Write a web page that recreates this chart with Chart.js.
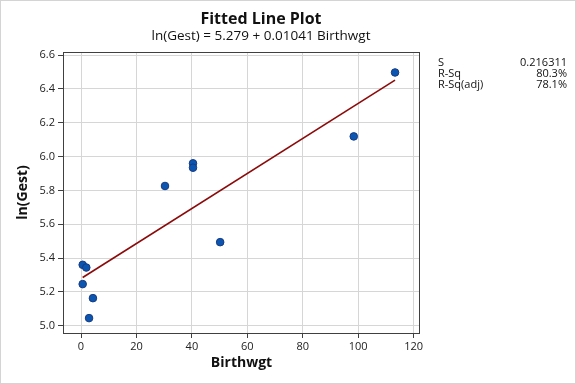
<!DOCTYPE html>
<html>
<head>
<meta charset="utf-8">
<script src="https://cdn.jsdelivr.net/npm/chart.js@4"></script>
<style>
  html, body { margin: 0; padding: 0; background: #fff; }
  #wrap { width: 576px; height: 384px; position: relative; }
</style>
</head>
<body>
<div id="wrap"><canvas class="chart" width="576" height="384"></canvas></div>
<script>
// Fitted line plot: ln(Gest) vs Birthwgt

const birthwgt = [0.6, 1.9, 0.6, 4.3, 2.9, 30.3, 40.4, 40.4, 50.2, 98.4, 113.3];
const lnGest = [5.36, 5.344, 5.246, 5.163, 5.045, 5.826, 5.96, 5.934, 5.494, 6.119, 6.497];

// fitted line end points as drawn
const fitX = [0.6, 113.3];
const fitY = [5.285, 6.452];

const statNames = ["S", "R-Sq", "R-Sq(adj)"];
const statValues = ["0.216311", "80.3%", "78.1%"];

const FONT = "'Open Sans', 'Noto Sans', sans-serif";

const points = birthwgt.map((x, i) => ({ x, y: lnGest[i] }));
const fitLine = fitX.map((x, i) => ({ x, y: fitY[i] }));

const decor = {
  id: "decor",
  beforeDatasetsDraw(c) {
    const { ctx, chartArea: a } = c;
    ctx.save();
    ctx.strokeStyle = "#404040";
    ctx.lineWidth = 1;
    ctx.strokeRect(Math.round(a.left) + 0.5, Math.round(a.top) + 0.5,
      Math.round(a.right - a.left) - 1, Math.round(a.bottom - a.top));
    ctx.restore();
  },
  afterDraw(c) {
    const { ctx, chartArea: a } = c;
    ctx.save();
    // outer frame
    ctx.strokeStyle = "#d4d4d4";
    ctx.strokeRect(0.5, 0.5, 575, 383);

    ctx.fillStyle = "#111";
    ctx.textAlign = "center";
    ctx.textBaseline = "alphabetic";
    ctx.font = "bold 16px " + FONT;
    ctx.fillText("Fitted Line Plot", 261, 24);
    ctx.font = "13.5px " + FONT;
    ctx.fillText("ln(Gest) = 5.279 + 0.01041 Birthwgt", 261, 40);

    // axis titles
    ctx.font = "bold 14px " + FONT;
    ctx.fillText("Birthwgt", (a.left + a.right) / 2, 367);
    ctx.translate(27, (a.top + a.bottom) / 2);
    ctx.rotate(-Math.PI / 2);
    ctx.fillText("ln(Gest)", 0, 0);
    ctx.setTransform(1, 0, 0, 1, 0, 0);

    // stats box
    ctx.font = "11px " + FONT;
    statNames.forEach((n, i) => {
      ctx.textAlign = "left";
      ctx.fillText(n, 438, 66 + i * 11);
      ctx.textAlign = "right";
      ctx.fillText(statValues[i], 567, 66 + i * 11);
    });
    ctx.restore();
  },
};

const config = {
  type: "scatter",
  data: {
    datasets: [
      {
        label: "ln(Gest)",
        data: points,
        backgroundColor: "#0a56b0",
        borderColor: "#1a3a80",
        borderWidth: 1,
        pointRadius: 3.8,
      },
      {
        label: "Fit",
        data: fitLine,
        showLine: true,
        borderColor: "#8b0a0a",
        borderWidth: 1.6,
        pointRadius: 0,
      },
    ],
  },
  options: {
    responsive: false,
    animation: false,
    layout: { padding: { left: 0, top: 52, right: 156, bottom: 0 } },
    plugins: {
      legend: { display: false },
      tooltip: { enabled: false },
    },
    scales: {
      x: {
        type: "linear",
        min: -6.5,
        max: 122.3,
        afterFit(s) { s.height = 51; },
        ticks: {
          stepSize: 20,
          includeBounds: false,
          color: "#222",
          font: { family: FONT, size: 11 },
          padding: 2,
          maxRotation: 0,
        },
        grid: { color: "#d6d6d6", tickColor: "#404040", tickLength: 5 },
        border: { display: false },
      },
      y: {
        type: "linear",
        min: 4.957,
        max: 6.618,
        afterFit(s) { s.width = 63; },
        ticks: {
          stepSize: 0.2,
          includeBounds: false,
          color: "#222",
          font: { family: FONT, size: 11 },
          padding: 3,
          callback: (v) => v.toFixed(1),
        },
        grid: { color: "#d6d6d6", tickColor: "#404040", tickLength: 5 },
        border: { display: false },
      },
    },
  },
  plugins: [decor],
};

const myChart = new Chart(document.querySelector(".chart").getContext("2d"), config);
</script>
</body>
</html>
